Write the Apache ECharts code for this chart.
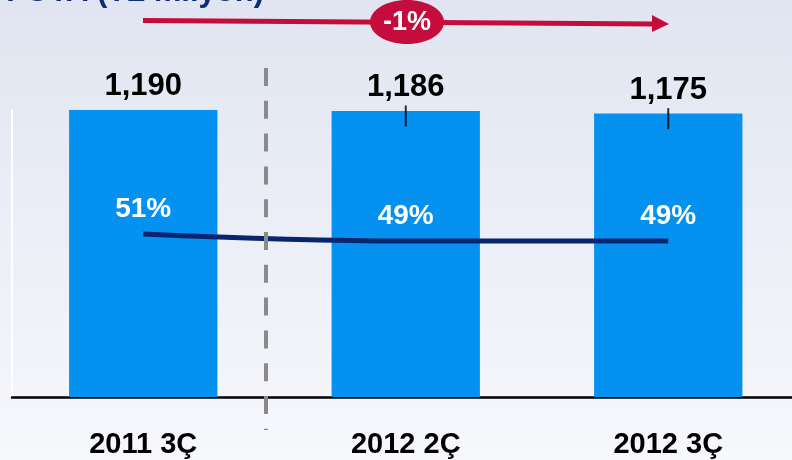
<!DOCTYPE html>
<html>
<head>
<meta charset="utf-8">
<script src="https://cdn.jsdelivr.net/npm/echarts@6/dist/echarts.min.js"></script>
<style>
  html, body { margin: 0; padding: 0; }
  #chart { width: 792px; height: 460px; }
</style>
</head>
<body>
<div id="chart"></div>
<script>
// donem etiketleri ve degerler
var periods = ['2011 3Ç', '2012 2Ç', '2012 3Ç'];
var amounts = [1190, 1186, 1175];     // TL milyon
var ratios = [51, 49, 49];            // %
var tickMarks = [null, 1186, 1175];   // kucuk siyah cizgiler

var chart = echarts.init(document.getElementById('chart'));

// ilk ve son donem arasi degisim
var change = Math.round((amounts[amounts.length - 1] / amounts[0] - 1) * 100);

var font = '"Liberation Sans", Arial, sans-serif';

chart.setOption({
  animation: false,
  backgroundColor: {
    type: 'linear', x: 0, y: 0, x2: 0, y2: 1,
    colorStops: [
      { offset: 0, color: '#e0e5f1' },
      { offset: 1, color: '#f7f8fc' }
    ]
  },
  textStyle: { fontFamily: font },
  grid: {
    left: 12, top: 110, width: 787.5, height: 287,
    containLabel: false,
    outerBoundsMode: 'none'
  },
  xAxis: {
    type: 'category',
    data: periods,
    axisLine: { lineStyle: { color: '#000', width: 2.5 } },
    axisTick: { show: false },
    axisLabel: {
      margin: 33,
      color: '#000',
      fontSize: 29,
      fontWeight: 'bold',
      fontFamily: font
    }
  },
  yAxis: [
    {
      type: 'value',
      min: 0,
      max: 1190,
      axisLine: { show: true, lineStyle: { color: '#fff', width: 2 } },
      axisLabel: { show: false },
      axisTick: { show: false },
      splitLine: { show: false }
    },
    {
      type: 'value',
      min: 4.4,
      max: 86.4,
      show: false,
      splitLine: { show: false }
    }
  ],
  series: [
    {
      type: 'bar',
      data: amounts,
      barWidth: '56.5%',
      itemStyle: { color: '#0591ef' },
      label: {
        show: true,
        position: 'top',
        distance: 8,
        color: '#000',
        fontSize: 31,
        fontWeight: 'bold',
        fontFamily: font,
        formatter: function (p) { return p.value.toLocaleString('en-US'); }
      },
      z: 2
    },
    {
      type: 'scatter',
      data: tickMarks,
      symbol: 'rect',
      symbolSize: [2, 21],
      symbolOffset: [0, 5],
      itemStyle: { color: '#000' },
      z: 4
    },
    {
      type: 'line',
      yAxisIndex: 1,
      data: ratios,
      smooth: 0.4,
      symbol: 'circle',
      symbolSize: 0,
      showSymbol: true,
      lineStyle: { color: '#0b2470', width: 5 },
      label: {
        show: true,
        position: 'top',
        distance: 11,
        color: '#fff',
        fontSize: 28,
        fontWeight: 'bold',
        fontFamily: font,
        formatter: '{c}%'
      },
      z: 3
    }
  ],
  graphic: [
    // kesik baslik
    {
      type: 'text',
      x: 264, y: -8,
      style: {
        text: 'FOTA (TL milyon)',
        fill: '#0d2c7c',
        font: 'bold 31px ' + font,
        textAlign: 'right',
        textVerticalAlign: 'middle'
      }
    },
    // ayirici kesik cizgi
    {
      type: 'line',
      shape: { x1: 266, y1: 68, x2: 266, y2: 430 },
      style: { stroke: '#8a8a8a', lineWidth: 4, lineDash: [18, 14.8] },
      z: 10
    },
    // degisim oku
    {
      type: 'line',
      shape: { x1: 143, y1: 20.5, x2: 656, y2: 24 },
      style: { stroke: '#c40d3c', lineWidth: 5 },
      z: 10
    },
    {
      type: 'polygon',
      shape: { points: [[652, 15], [669, 24], [652, 32]] },
      style: { fill: '#c40d3c' },
      z: 10
    },
    {
      type: 'ellipse',
      shape: { cx: 407, cy: 22, rx: 37, ry: 22 },
      style: { fill: '#c40d3c' },
      z: 11
    },
    {
      type: 'text',
      x: 407, y: 23,
      style: {
        text: change + '%',
        fill: '#fff',
        font: 'bold 27px ' + font,
        textAlign: 'center',
        textVerticalAlign: 'middle'
      },
      z: 12
    }
  ]
});
</script>
</body>
</html>
